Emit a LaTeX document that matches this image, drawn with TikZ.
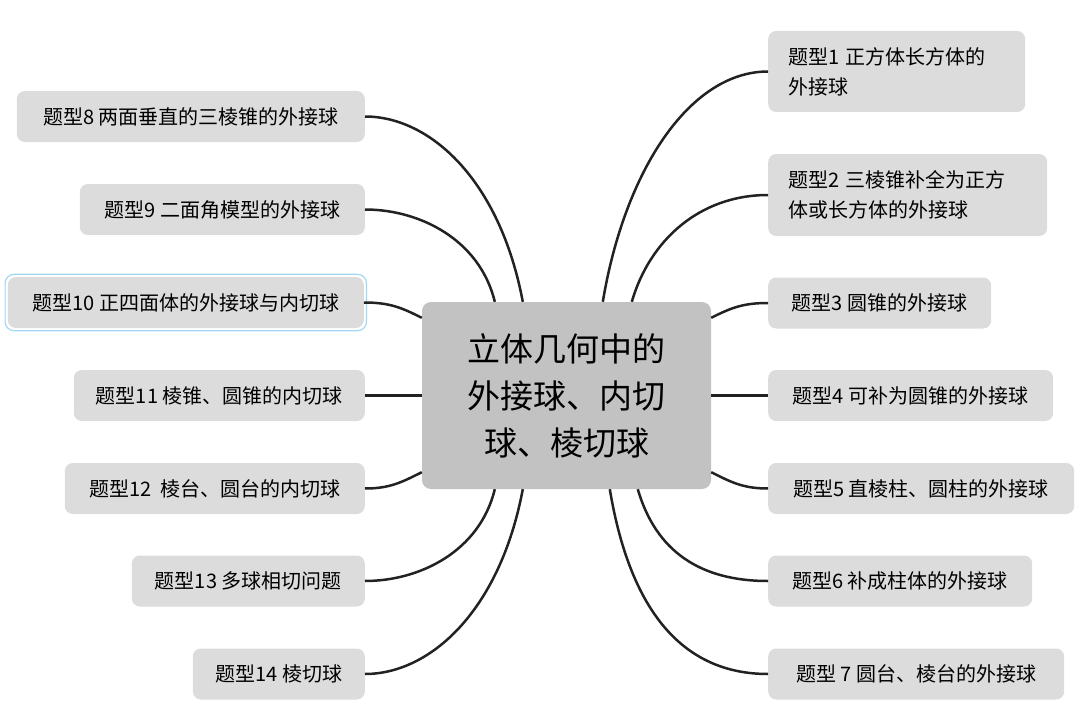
\documentclass[tikz,border=0pt]{standalone}
\usepackage{fontspec}
\setmainfont{Noto Sans CJK SC}
\usepackage{tikz}
\usetikzlibrary{positioning}
\definecolor{leafgray}{HTML}{DCDCDC}
\definecolor{rootgray}{HTML}{C2C2C2}
\definecolor{wiregray}{HTML}{222222}
\definecolor{selblue}{HTML}{A3D6F5}
\tikzstyle{leaf} = [rectangle, rounded corners=8pt, fill=leafgray, minimum height=51pt, inner xsep=0pt, font=\fontsize{20}{30}\selectfont, align=left]
\tikzstyle{root} = [rectangle, rounded corners=9pt, fill=rootgray, minimum width=289pt, minimum height=187pt, font=\fontsize{33}{47}\selectfont, align=center]
\tikzstyle{wire} = [-, draw=wiregray, line width=2.5pt]

\begin{document}
\begin{tikzpicture}[x=1pt, y=-1pt]
\useasboundingbox (0, 0) rectangle (1080, 717);
\node [root] (C0) at (566.5, 395.5) {立体几何中的\\外接球、内切\\球、棱切球};

\node [leaf, anchor=west, inner xsep=20pt, text width=217pt, minimum height=81pt] (T1) at (768, 71.5) {题型1 正方体长方体的\\外接球};
\node [leaf, anchor=west, inner xsep=20pt, text width=239pt, minimum height=82pt] (T2) at (768, 195) {题型2 三棱锥补全为正方\\体或长方体的外接球};
\node [leaf, anchor=west, minimum width=223pt] (T3) at (768, 303) {题型3 圆锥的外接球};
\node [leaf, anchor=west, minimum width=285pt] (T4) at (768, 395.5) {题型4 可补为圆锥的外接球};
\node [leaf, anchor=west, minimum width=306pt] (T5) at (768, 488.5) {题型5 直棱柱、圆柱的外接球};
\node [leaf, anchor=west, minimum width=264pt] (T6) at (768, 581) {题型6 补成柱体的外接球};
\node [leaf, anchor=west, minimum width=296pt] (T7) at (768, 674) {题型 7 圆台、棱台的外接球};

\node [leaf, anchor=east, minimum width=348pt] (T8) at (365, 116.5) {题型8 两面垂直的三棱锥的外接球};
\node [leaf, anchor=east, minimum width=285pt] (T9) at (365, 209.5) {题型9 二面角模型的外接球};
\node [leaf, anchor=east, minimum width=356pt] (T10) at (364, 302.5) {题型10 正四面体的外接球与内切球};
\node [leaf, anchor=east, minimum width=291pt] (T11) at (365, 395.5) {题型11 棱锥、圆锥的内切球};
\node [leaf, anchor=east, minimum width=300pt] (T12) at (365, 488.5) {题型12\ \ 棱台、圆台的内切球};
\node [leaf, anchor=east, minimum width=233pt] (T13) at (365, 581) {题型13 多球相切问题};
\node [leaf, anchor=east, minimum width=172pt] (T14) at (365, 674) {题型14 棱切球};

\draw [selblue, line width=1.2pt, rounded corners=9pt] ([shift={(-2.5pt,2.5pt)}]T10.north west) rectangle ([shift={(2.5pt,-2.5pt)}]T10.south east);

\draw [wire] (T1.west) .. controls +(-78, 0) and +(22, -132) .. ([xshift=181pt]C0.north west);
\draw [wire] (T2.west) .. controls +(-68, 0) and +(18, -62) .. ([xshift=210pt]C0.north west);
\draw [wire] (T3.west) .. controls +(-25, 0) and +(20, -10) .. ([yshift=-16pt]C0.north east);
\draw [wire] (T4.west) to (C0.east);
\draw [wire] (T5.west) .. controls +(-25, 0) and +(20, 10) .. ([yshift=17pt]C0.south east);
\draw [wire] (T6.west) .. controls +(-68, 0) and +(18, 62) .. ([xshift=216pt]C0.south west);
\draw [wire] (T7.west) .. controls +(-78, 0) and +(22, 132) .. ([xshift=188pt]C0.south west);

\draw [wire] (T8.east) .. controls +(65, 0) and +(-23, -122) .. ([xshift=101pt]C0.north west);
\draw [wire] (T9.east) .. controls +(55, 0) and +(-15, -62) .. ([xshift=73pt]C0.north west);
\draw [wire] (T10.east) .. controls +(26, 0) and +(-20, -10) .. ([yshift=-16pt]C0.north west);
\draw [wire] (T11.east) to (C0.west);
\draw [wire] (T12.east) .. controls +(25, 0) and +(-20, 10) .. ([yshift=17pt]C0.south west);
\draw [wire] (T13.east) .. controls +(55, 0) and +(-15, 62) .. ([xshift=73pt]C0.south west);
\draw [wire] (T14.east) .. controls +(65, 0) and +(-23, 122) .. ([xshift=101pt]C0.south west);
\end{tikzpicture}
\end{document}
